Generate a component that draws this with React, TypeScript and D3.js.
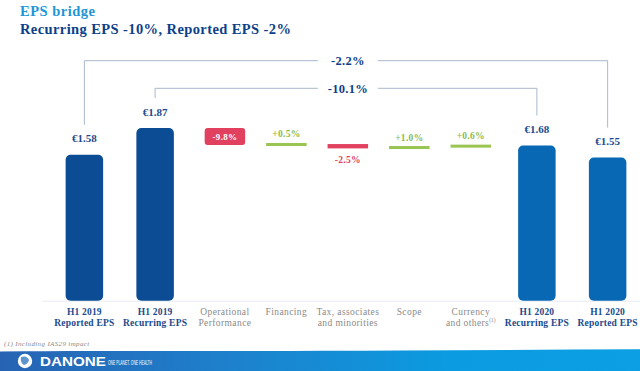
import React from "react";
import * as d3 from "d3";

// ---------------- data ----------------
const labelLine1 = ["H1 2019", "H1 2019", "Operational", "Financing", "Tax, associates", "Scope", "Currency", "H1 2020", "H1 2020"];
const labelLine2 = ["Reported EPS", "Recurring EPS", "Performance", "", "and minorities", "", "and others", "Recurring EPS", "Reported EPS"];
const labelNote = ["", "", "", "", "", "", "(1)", "", ""];
const categoryKind = ["total", "total", "step", "step", "step", "step", "step", "total", "total"];
const totalValues = [1.58, 1.87, null, null, null, null, null, 1.68, 1.55];
const stepPct = [null, null, -9.8, 0.5, -2.5, 1.0, 0.6, null, null];
const bracketLabels = ["-2.2%", "-10.1%"];
const bracketFrom = [0, 1];
const bracketTo = [8, 7];

const titleText = "EPS bridge";
const subtitleText = "Recurring EPS -10%, Reported EPS -2%";
const footnoteText = "(1) Including IAS29 impact";

// ---------------- layout / style ----------------
const W = 640, H = 371;
const SERIF = "'Liberation Serif', 'DejaVu Serif', serif";
const SANS = "'Liberation Sans', Arial, sans-serif";
const DARK = "#0d3f8a";
const LABEL_BLUE = "#1b4a8c";
const BAR19 = "#0b4c94";
const BAR20 = "#0868b4";
const RED = "#e2405f";
const GREEN = "#9ac552";
const GREEN_TXT = "#8dbb4a";
const GREY_TXT = "#8a8a8a";
const BRACKET = "#a9b8cc";

const TOTAL_W = 1.151, STEP_W = 1, GROUP_GAP = 0.06;

export default function App() {
  // slot layout
  const starts: number[] = [];
  const widths: number[] = [];
  let u = 0;
  categoryKind.forEach((k, i) => {
    const w = k === "total" ? TOTAL_W : STEP_W;
    starts.push(u);
    widths.push(w);
    u += w;
    if (i === 1) u += GROUP_GAP;
  });
  const x = d3.scaleLinear().domain([0, u]).range([49, 643]);
  const cx = (i: number) => x(starts[i] + widths[i] / 2);

  const y = d3.scaleLinear().domain([0, 2]).range([300.7, 300.7 - 2 * 92.35]);

  // waterfall running levels
  const base = totalValues[1] as number;
  let level = base;
  const steps: { i: number; y0: number; y1: number; pct: number }[] = [];
  stepPct.forEach((p, i) => {
    if (p === null) return;
    const start = level;
    const end = level + (p / 100) * base;
    steps.push({ i, y0: y(start), y1: y(end), pct: p });
    level = end;
  });

  const barW = 37.5;
  const stepW = 40.5;
  const fmtPct = (p: number) => (p > 0 ? "+" : "-") + d3.format(".1f")(Math.abs(p)) + "%";

  const topOf = (i: number) => y(totalValues[i] as number);

  return (
    <svg width={W} height={H} style={{ position: "fixed", left: 0, top: 0, display: "block", background: "#fff" }}>
      <defs>
        <linearGradient id="banner" x1="0" x2="1" y1="0" y2="0">
          <stop offset="0" stopColor="#2763b3" />
          <stop offset="0.35" stopColor="#1e80cc" />
          <stop offset="0.7" stopColor="#0b9be0" />
          <stop offset="1" stopColor="#0c9fe3" />
        </linearGradient>
      </defs>

      {/* titles */}
      <text x={20} y={16} fontFamily={SERIF} fontWeight="bold" fontSize={14.5} letterSpacing={0.5} fill="#1e96d6">{titleText}</text>
      <text x={20} y={34} fontFamily={SERIF} fontWeight="bold" fontSize={14.5} letterSpacing={0.4} fill={DARK}>{subtitleText}</text>

      {/* baseline */}
      <line x1={42} x2={640} y1={301.2} y2={301.2} stroke="#e6ebf1" strokeWidth={1} />

      {/* brackets */}
      {bracketLabels.map((lab, b) => {
        const by = b === 0 ? 60.7 : 88.3;
        const xa = cx(bracketFrom[b]);
        const xb = cx(bracketTo[b]);
        const mid = cx(4);
        const half = 30;
        return (
          <g key={"br" + b}>
            <path d={`M${xa},${topOf(bracketFrom[b]) - 30}V${by}H${mid - half}`} fill="none" stroke={BRACKET} strokeWidth={1} />
            <path d={`M${mid + half},${by}H${xb}V${topOf(bracketTo[b]) - 30}`} fill="none" stroke={BRACKET} strokeWidth={1} />
            <text x={mid} y={by + 4.5} textAnchor="middle" fontFamily={SERIF} fontWeight="bold" fontSize={12.5} letterSpacing={0.3} fill={DARK}>{lab}</text>
          </g>
        );
      })}

      {/* total bars */}
      {totalValues.map((v, i) => {
        if (v === null) return null;
        const top = y(v);
        const color = labelLine1[i].includes("2019") ? BAR19 : BAR20;
        return (
          <g key={"t" + i}>
            <rect x={cx(i) - barW / 2} y={top} width={barW} height={y(0) - top} rx={5} ry={5} fill={color} />
            <text x={cx(i)} y={top - 12.3} textAnchor="middle" fontFamily={SERIF} fontWeight="bold" fontSize={11} fill={LABEL_BLUE}>
              {"€" + d3.format(".2f")(v)}
            </text>
          </g>
        );
      })}

      {/* step bars */}
      {steps.map((s) => {
        const top = Math.min(s.y0, s.y1);
        const bot = Math.max(s.y0, s.y1);
        const h = bot - top;
        const color = s.pct < 0 ? RED : GREEN;
        const txtColor = s.pct < 0 ? RED : GREEN_TXT;
        const c = cx(s.i);
        if (h >= 12) {
          return (
            <g key={"s" + s.i}>
              <rect x={c - stepW / 2} y={top} width={stepW} height={h} rx={3} ry={3} fill={color} />
              <text x={c} y={(top + bot) / 2 + 3.2} textAnchor="middle" fontFamily={SERIF} fontWeight="bold" fontSize={9} letterSpacing={0.3} fill="#fff">
                {fmtPct(s.pct)}
              </text>
            </g>
          );
        }
        const hh = Math.max(h, 3);
        const mid = (top + bot) / 2;
        const rt = mid - hh / 2;
        const rb = mid + hh / 2;
        return (
          <g key={"s" + s.i}>
            <rect x={c - stepW / 2} y={rt} width={stepW} height={hh} fill={color} />
            <text x={c} y={s.pct > 0 ? rt - 5.5 : rb + 14.5} textAnchor="middle" fontFamily={SERIF} fontWeight="bold" fontSize={9.5} letterSpacing={0.3} fill={txtColor}>
              {fmtPct(s.pct)}
            </text>
          </g>
        );
      })}

      {/* category labels */}
      {labelLine1.map((l1, i) => {
        const isTotal = categoryKind[i] === "total";
        const common = {
          textAnchor: "middle" as const,
          fontFamily: SERIF,
          fontSize: 9.5,
          fontWeight: isTotal ? "bold" : "normal",
          letterSpacing: isTotal ? 0.2 : 0.4,
          fill: isTotal ? LABEL_BLUE : GREY_TXT,
        };
        return (
          <g key={"l" + i}>
            <text x={cx(i)} y={315} {...common}>{l1}</text>
            {labelLine2[i] && (
              <text x={cx(i)} y={325.8} {...common}>
                {labelLine2[i]}
                {labelNote[i] && <tspan fontSize={5.5} dy={-3.5} letterSpacing={0}>{labelNote[i]}</tspan>}
              </text>
            )}
          </g>
        );
      })}

      {/* footnote */}
      <text x={4} y={345.5} fontFamily={SERIF} fontStyle="italic" fontSize={7} letterSpacing={0.35} fill={GREY_TXT}>{footnoteText}</text>

      {/* banner */}
      <path d="M0,351.5 C120,350.5 250,351.5 400,350.5 C480,350 560,349.8 640,349.3 V371 H0 Z" fill="url(#banner)" />
      <circle cx={25} cy={361} r={7.2} fill="#fff" />
      <path d="M21,357 q6,-2 8,3 q-1,4 -5,5 q-4,-2 -3,-8 Z" fill="#2a72bf" opacity={0.75} />
      <text x={40} y={365.5} fontFamily={SANS} fontWeight="bold" fontSize={12} textLength={66} lengthAdjust="spacingAndGlyphs" fill="#fff">DANONE</text>
      <text x={108} y={364.5} fontFamily={SANS} fontSize={7.5} textLength={44} lengthAdjust="spacingAndGlyphs" fill="#fff">ONE PLANET. ONE HEALTH</text>
    </svg>
  );
}
